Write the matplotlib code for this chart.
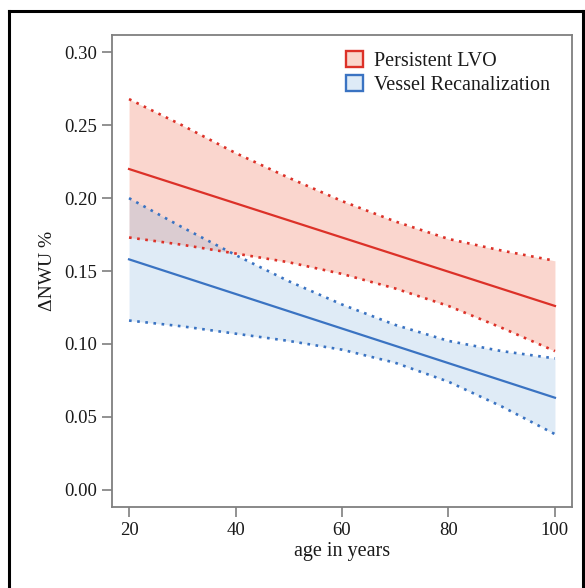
import numpy as np
import matplotlib as mpl
import matplotlib.pyplot as plt
from matplotlib.lines import Line2D

mpl.rcParams['font.family'] = 'serif'
mpl.rcParams['font.serif'] = ['Liberation Serif', 'DejaVu Serif']

# model estimates
age = [20, 30, 40, 50, 60, 70, 80, 90, 100]
age_line = [20, 100]

lvo_fit = [0.220, 0.126]
lvo_upper = [0.268, 0.250, 0.231, 0.214, 0.198, 0.184, 0.172, 0.164, 0.157]
lvo_lower = [0.173, 0.168, 0.162, 0.156, 0.148, 0.138, 0.126, 0.111, 0.095]

rec_fit = [0.158, 0.063]
rec_upper = [0.200, 0.180, 0.161, 0.143, 0.127, 0.113, 0.102, 0.095, 0.090]
rec_lower = [0.116, 0.112, 0.107, 0.102, 0.096, 0.087, 0.074, 0.057, 0.038]

xticks = [20, 40, 60, 80, 100]
yticks = [0.00, 0.05, 0.10, 0.15, 0.20, 0.25, 0.30]

red = '#dc3128'
blue = '#3a73c2'
red_fill = (0.94, 0.43, 0.31, 0.28)
blue_fill = (0.47, 0.67, 0.86, 0.23)
grey = '#7f7f7f'
txt = '#1a1a1a'
dots = (0, (1, 2.1))

fig = plt.figure(figsize=(5.85, 5.88), dpi=100)
ax = fig.add_axes([112/585, 1 - 507/588, 460/585, 472/588])

ax.fill_between(age, lvo_lower, lvo_upper, color=red_fill, lw=0)
ax.fill_between(age, rec_lower, rec_upper, color=blue_fill, lw=0)

ax.plot(age, lvo_upper, color=red, lw=1.9, ls=dots)
ax.plot(age, lvo_lower, color=red, lw=1.9, ls=dots)
ax.plot(age_line, lvo_fit, color=red, lw=1.6)

ax.plot(age, rec_upper, color=blue, lw=1.9, ls=dots)
ax.plot(age, rec_lower, color=blue, lw=1.9, ls=dots)
ax.plot(age_line, rec_fit, color=blue, lw=1.6)

ax.set_xlim(16.8, 103.2)
ax.set_ylim(-0.012, 0.312)
ax.set_xticks(xticks)
ax.set_yticks(yticks)
ax.set_yticklabels(['%.2f' % v for v in yticks])
ax.tick_params(direction='out', length=7, width=1.2, color=grey,
               labelsize=13.5, labelcolor=txt, pad=4)
for s in ax.spines.values():
    s.set_color(grey)
    s.set_linewidth(1.3)

ax.set_xlabel('age in years', fontsize=14.5, color=txt, labelpad=2)
ax.set_ylabel('ΔNWU %', fontsize=14, color=txt, labelpad=6)

handles = [
    mpl.patches.Patch(facecolor=(0.98, 0.84, 0.80), edgecolor=red, lw=1.7, label='Persistent LVO'),
    mpl.patches.Patch(facecolor=(0.87, 0.92, 0.97), edgecolor=blue, lw=1.7, label='Vessel Recanalization'),
]
ax.legend(handles=handles, loc='upper right', frameon=False, fontsize=14.5,
          handlelength=0.85, handleheight=0.85, handletextpad=0.55,
          labelspacing=0.2, borderaxespad=0.5, borderpad=0.3,
          bbox_to_anchor=(0.988, 1.0), labelcolor=txt)

# black frame around the whole panel
for xy in [((9/585, 9/585), (1 - 11/588, 0)),
           ((9/585, 583/585), (1 - 11/588, 1 - 11/588)),
           ((583/585, 583/585), (1 - 11/588, 0))]:
    fig.add_artist(Line2D(xy[0], xy[1], color='black', lw=2.2,
                          transform=fig.transFigure))

plt.savefig('out.png', dpi=100)
